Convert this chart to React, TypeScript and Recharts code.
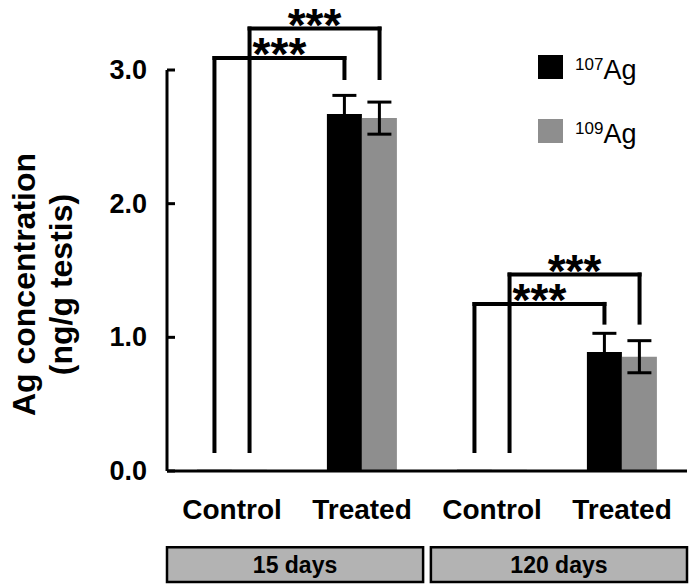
import {
  ComposedChart,
  Bar,
  XAxis,
  YAxis,
  ErrorBar,
  ReferenceLine,
  ReferenceDot,
  ReferenceArea,
  Legend,
} from "recharts";

const categories = ["Control", "Treated", "Control", "Treated"];
const ag107 = [0.01, 2.67, 0.01, 0.89];
const ag107Err = [0, 0.14, 0, 0.14];
const ag109 = [0.01, 2.64, 0.01, 0.855];
const ag109Err = [0, 0.12, 0, 0.12];
const yTicks = [0, 1, 2, 3];

// time groups: label, first and last category index
const groups = [
  { label: "15 days", start: 0, end: 1 },
  { label: "120 days", start: 2, end: 3 },
];

// significance brackets: control bar -> treated bar of the same isotope
const brackets = [
  { from: 0, to: 1, series: 0, top: 3.09, lowFoot: 0.15, highFoot: 2.94 },
  { from: 0, to: 1, series: 1, top: 3.31, lowFoot: 0.15, highFoot: 2.94 },
  { from: 2, to: 3, series: 0, top: 1.25, lowFoot: 0.15, highFoot: 1.11 },
  { from: 2, to: 3, series: 1, top: 1.47, lowFoot: 0.15, highFoot: 1.11 },
];

const data = categories.map((name, i) => ({
  name,
  slot: i + 0.5,
  ag107: ag107[i],
  ag107Err: ag107Err[i],
  ag109: ag109[i],
  ag109Err: ag109Err[i],
}));

const FONT = "'Liberation Sans', Arial, sans-serif";
const GRAY = "#8e8e8e";
const BOX = "#b3b3b3";
const CAT_GAP = 0.23;
const Y_TICK_GAP = 20;

// centre of bar `s` (0 or 1) in category `i`, on the numeric 0..4 axis
const barCenter = (i: number, s: number) =>
  i + CAT_GAP + ((s + 0.5) * (1 - 2 * CAT_GAP)) / 2;

function YTick(p: any) {
  return (
    <g>
      <line
        x1={p.x + Y_TICK_GAP}
        x2={p.x + Y_TICK_GAP + 8}
        y1={p.y}
        y2={p.y}
        stroke="#000"
        strokeWidth={3}
      />
      <text
        x={p.x}
        y={p.y}
        textAnchor="end"
        dominantBaseline="central"
        fontFamily={FONT}
        fontWeight="bold"
        fontSize={27}
        fill="#000"
      >
        {Number(p.payload.value).toFixed(1)}
      </text>
    </g>
  );
}

function YLabel(p: any) {
  const vb = p.viewBox || { x: 0, y: 70, width: 167, height: 401 };
  const cy = vb.y + vb.height / 2 + 14;
  const lines = [
    { text: "Ag concentration", x: 24 },
    { text: "(ng/g testis)", x: 61 },
  ];
  return (
    <g>
      {lines.map((l) => (
        <text
          key={l.text}
          x={l.x}
          y={cy}
          transform={`rotate(-90, ${l.x}, ${cy})`}
          textAnchor="middle"
          dominantBaseline="central"
          fontFamily={FONT}
          fontWeight="bold"
          fontSize={32}
          fill="#000"
        >
          {l.text}
        </text>
      ))}
    </g>
  );
}

function LegendBox({ payload }: any) {
  return (
    <div style={{ fontFamily: FONT }}>
      {(payload || []).map((item: any) => {
        const m = String(item.value).match(/^(\d+)(.*)$/);
        return (
          <div
            key={item.value}
            style={{ display: "flex", alignItems: "center", height: 24, marginBottom: 40 }}
          >
            <div style={{ width: 25, height: 24, background: item.color, marginRight: 12 }} />
            <span style={{ fontSize: 27, color: "#000", lineHeight: "24px" }}>
              <sup style={{ fontSize: 17, verticalAlign: "9px" }}>{m ? m[1] : ""}</sup>
              {m ? m[2] : item.value}
            </span>
          </div>
        );
      })}
    </div>
  );
}

function Stars(p: any) {
  return (
    <text
      x={p.cx}
      y={p.cy + 12}
      textAnchor="middle"
      fontFamily={FONT}
      fontWeight="bold"
      fontSize={46}
      fill="#000"
    >
      ***
    </text>
  );
}

export default function App() {
  return (
    <div style={{ position: "absolute", left: 0, top: 0, background: "#fff" }}>
      <ComposedChart
        width={698}
        height={586}
        data={data}
        margin={{ top: 70, right: 11, bottom: 0, left: 0 }}
        barCategoryGap={`${CAT_GAP * 100}%`}
        barGap={0}
      >
        <XAxis
          xAxisId="cat"
          dataKey="name"
          height={115}
          tickLine={false}
          tickSize={0}
          tickMargin={28}
          axisLine={{ stroke: "#000", strokeWidth: 3 }}
          tick={{ fill: "#000", fontFamily: FONT, fontWeight: "bold", fontSize: 28 }}
          interval={0}
        />
        <XAxis
          xAxisId="num"
          dataKey="slot"
          type="number"
          domain={[0, categories.length]}
          allowDataOverflow
          hide
        />
        <YAxis
          width={167}
          domain={[0, 3]}
          ticks={yTicks}
          tickLine={false}
          tickSize={0}
          tickMargin={Y_TICK_GAP}
          axisLine={{ stroke: "#000", strokeWidth: 3 }}
          tick={<YTick />}
          label={<YLabel />}
        />
        <Legend
          layout="vertical"
          align="center"
          verticalAlign="middle"
          content={<LegendBox />}
          wrapperStyle={{ position: "absolute", top: 55, left: 538, width: 140 }}
        />
        <Bar xAxisId="cat" dataKey="ag107" name="107Ag" fill="#000" isAnimationActive={false}>
          <ErrorBar dataKey="ag107Err" width={12} stroke="#000" strokeWidth={3} />
        </Bar>
        <Bar xAxisId="cat" dataKey="ag109" name="109Ag" fill={GRAY} isAnimationActive={false}>
          <ErrorBar dataKey="ag109Err" width={12} stroke="#000" strokeWidth={3} />
        </Bar>

        {brackets.map((b, k) => {
          const x1 = barCenter(b.from, b.series);
          const x2 = barCenter(b.to, b.series);
          const segs = [
            [{ x: x1, y: b.lowFoot }, { x: x1, y: b.top }],
            [{ x: x1, y: b.top }, { x: x2, y: b.top }],
            [{ x: x2, y: b.top }, { x: x2, y: b.highFoot }],
          ];
          return segs.map((s, j) => (
            <ReferenceLine
              key={`b${k}-${j}`}
              xAxisId="num"
              segment={s as any}
              stroke="#000"
              strokeWidth={4}
              strokeLinecap="square"
              ifOverflow="visible"
            />
          ));
        })}
        {brackets.map((b, k) => (
          <ReferenceDot
            key={`s${k}`}
            xAxisId="num"
            x={(barCenter(b.from, b.series) + barCenter(b.to, b.series)) / 2}
            y={b.top}
            r={1}
            ifOverflow="visible"
            shape={<Stars />}
          />
        ))}
        {groups.map((g, k) => (
          <ReferenceArea
            key={g.label}
            xAxisId="num"
            x1={g.start + (k === 0 ? 0 : 0.03)}
            x2={g.end + 1 - (k === 0 ? 0.03 : 0)}
            y1={-0.57}
            y2={-0.83}
            fill={BOX}
            fillOpacity={1}
            stroke="#000"
            strokeWidth={2.5}
            ifOverflow="visible"
            label={{
              value: g.label,
              position: "center",
              fill: "#000",
              fontFamily: FONT,
              fontWeight: "bold",
              fontSize: 23,
            }}
          />
        ))}
      </ComposedChart>
    </div>
  );
}
